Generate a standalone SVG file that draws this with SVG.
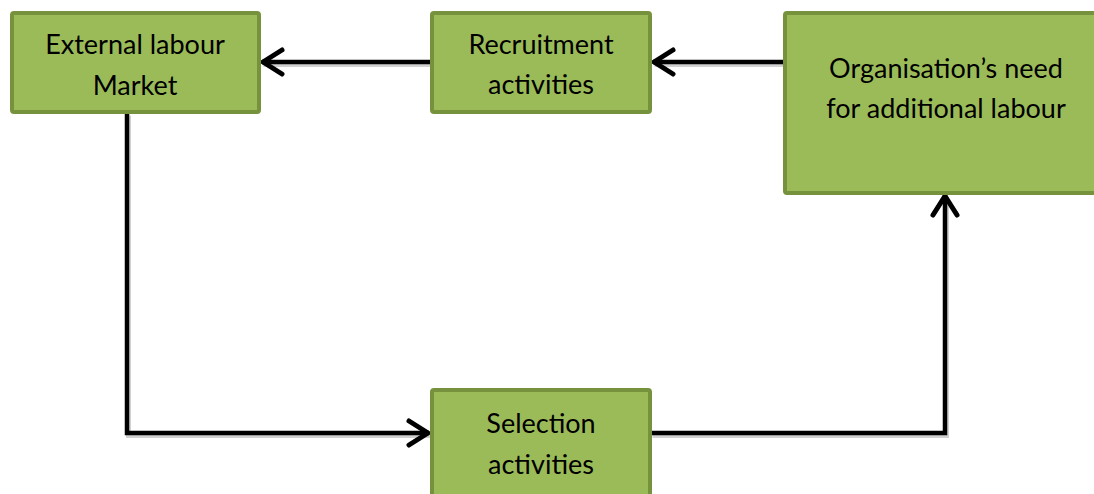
<svg xmlns="http://www.w3.org/2000/svg" width="1094" height="494" viewBox="0 0 1094 494">
<defs>
<style>
.box{fill:#9BBB59;stroke:#76923C;stroke-width:4}
.lbl{font-family:"Lato","Liberation Sans",sans-serif;font-size:27px;fill:#000;text-anchor:middle}
.ln{fill:none;stroke:#000;stroke-width:4.5;stroke-linejoin:miter}
.sh{fill:none;stroke:#000;stroke-opacity:0.18;stroke-width:5}
</style>
<marker id="arr" viewBox="0 0 32 32" refX="26" refY="16" markerWidth="32" markerHeight="32" markerUnits="userSpaceOnUse" orient="auto">
<polyline points="6,4 25,16 6,28" fill="none" stroke="#000" stroke-width="5" stroke-linecap="round" stroke-linejoin="round"/>
</marker>
</defs>
<rect width="1094" height="494" fill="#fff"/>
<g id="connectors">
<g transform="translate(1.5,2.5)">
<path class="sh" d="M430,62 H262"/>
<path class="sh" d="M783,62 H653"/>
<path class="sh" d="M127,113 V433 H429"/>
<path class="sh" d="M651,433 H945 V195"/>
</g>
<path class="ln" d="M430,62 H262" marker-end="url(#arr)"/>
<path class="ln" d="M783,62 H653" marker-end="url(#arr)"/>
<path class="ln" d="M127,113 V433 H429" marker-end="url(#arr)"/>
<path class="ln" d="M651,433 H945 V195" marker-end="url(#arr)"/>
</g>
<g id="external">
<rect class="box" x="12" y="13" width="247" height="99" rx="2"/>
<text class="lbl" x="135" y="54">External labour</text>
<text class="lbl" x="135" y="95">Market</text>
</g>
<g id="recruitment">
<rect class="box" x="432" y="13" width="218" height="99" rx="2"/>
<text class="lbl" x="541" y="54">Recruitment</text>
<text class="lbl" x="541" y="94">activities</text>
</g>
<g id="organisation">
<rect class="box" x="785" y="13" width="315" height="180" rx="2"/>
<text class="lbl" x="946" y="78">Organisation’s need</text>
<text class="lbl" x="946" y="118">for additional labour</text>
</g>
<g id="selection">
<rect class="box" x="432" y="390" width="218" height="120" rx="2"/>
<text class="lbl" x="541" y="433">Selection</text>
<text class="lbl" x="541" y="474">activities</text>
</g>
</svg>
